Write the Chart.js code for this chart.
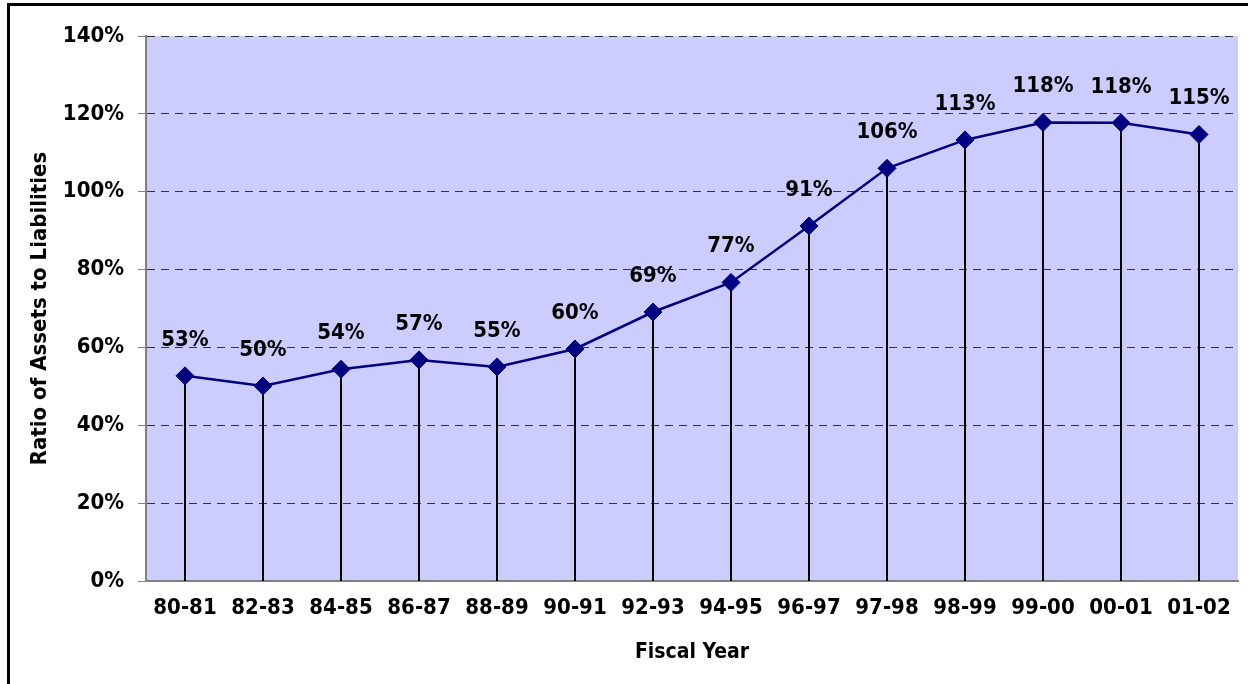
<!DOCTYPE html>
<html>
<head>
<meta charset="utf-8">
<script src="https://cdn.jsdelivr.net/npm/chart.js@4.4.1/dist/chart.umd.min.js"></script>
<style>
  html, body { margin: 0; padding: 0; background: #fff; overflow: hidden; }
  #frame { position: absolute; left: 7px; top: 3px; width: 1400px; height: 900px;
           border-left: 3px solid #000; border-top: 3px solid #000; }
  #c { position: absolute; left: 0; top: 0; }
</style>
</head>
<body>
<div id="frame"></div>
<canvas id="c" width="1248" height="684"></canvas>
<script>
const categories = ['80-81','82-83','84-85','86-87','88-89','90-91','92-93','94-95','96-97','97-98','98-99','99-00','00-01','01-02'];
const ratioValues = [52.7, 50.1, 54.4, 56.8, 55.0, 59.6, 69.1, 76.7, 91.2, 106.0, 113.3, 117.8, 117.7, 114.7];
const yTickValues = [0, 20, 40, 60, 80, 100, 120, 140];
const yAxisTitle = 'Ratio of Assets to Liabilities';
const xAxisTitle = 'Fiscal Year';

const FONT_FAMILY = "'DejaVu Sans Condensed', 'DejaVu Sans', sans-serif";
const mainFont = { family: FONT_FAMILY, size: 22, weight: 'bold' };
const xTitleFont = { family: FONT_FAMILY, size: 21, weight: 'bold' };
const yTitleFont = { family: FONT_FAMILY, size: 22, weight: 'bold' };

const bgPlugin = {
  id: 'plotBg',
  beforeDraw(chart) {
    const { ctx, chartArea: a } = chart;
    ctx.save();
    ctx.fillStyle = '#CCCCFF';
    ctx.fillRect(a.left, a.top, a.right - a.left, a.bottom - a.top);
    ctx.restore();
  }
};

const dropLinePlugin = {
  id: 'dropLines',
  beforeDatasetsDraw(chart) {
    const { ctx } = chart;
    const yScale = chart.scales.y;
    const base = yScale.getPixelForValue(0);
    const meta = chart.getDatasetMeta(0);
    ctx.save();
    ctx.strokeStyle = '#000';
    ctx.lineWidth = 2;
    meta.data.forEach(p => {
      ctx.beginPath();
      ctx.moveTo(Math.round(p.x), p.y);
      ctx.lineTo(Math.round(p.x), base);
      ctx.stroke();
    });
    ctx.restore();
  }
};

const labelPlugin = {
  id: 'pointLabels',
  afterDatasetsDraw(chart) {
    const { ctx } = chart;
    const meta = chart.getDatasetMeta(0);
    const data = chart.data.datasets[0].data;
    ctx.save();
    ctx.font = `bold 22px ${FONT_FAMILY}`;
    ctx.fillStyle = '#000';
    ctx.textAlign = 'center';
    ctx.textBaseline = 'middle';
    meta.data.forEach((p, i) => {
      ctx.fillText(Math.round(data[i]) + '%', p.x, p.y - 36);
    });
    ctx.restore();
  }
};

new Chart(document.getElementById('c'), {
  type: 'line',
  data: {
    labels: categories,
    datasets: [{
      data: ratioValues,
      borderColor: '#000080',
      borderWidth: 2.5,
      backgroundColor: '#000080',
      pointStyle: 'rectRot',
      pointRadius: 9,
      pointBorderWidth: 1,
      pointBorderColor: '#000080',
      pointBackgroundColor: '#000080',
      tension: 0,
      fill: false
    }]
  },
  plugins: [bgPlugin, dropLinePlugin, labelPlugin],
  options: {
    responsive: false,
    animation: false,
    events: [],
    layout: { padding: { left: 0, right: 7, top: 36, bottom: 0 } },
    plugins: { legend: { display: false }, tooltip: { enabled: false } },
    scales: {
      x: {
        offset: true,
        grid: { display: false, drawTicks: false },
        border: { display: true, color: '#808080', width: 2 },
        ticks: { font: mainFont, color: '#000', padding: 14, maxRotation: 0, autoSkip: false },
        title: { display: true, text: xAxisTitle, font: xTitleFont, color: '#000', padding: { top: 0, bottom: 19 } },
        afterFit(s) { s.height = 103; }
      },
      y: {
        min: 0,
        max: 140,
        afterBuildTicks(s) { s.ticks = yTickValues.map(v => ({ value: v })); },
        ticks: { font: mainFont, color: '#000', padding: 14, callback: v => v + '%' },
        grid: { color: '#333', lineWidth: 1, tickColor: '#808080', tickLength: 8, tickBorderDash: [] },
        border: { display: true, color: '#808080', width: 2, dash: [8, 6] },
        title: { display: true, text: yAxisTitle, font: yTitleFont, color: '#000', padding: { top: 27, bottom: 0 } },
        afterFit(s) { s.width = 146; }
      }
    }
  }
});
</script>
</body>
</html>
